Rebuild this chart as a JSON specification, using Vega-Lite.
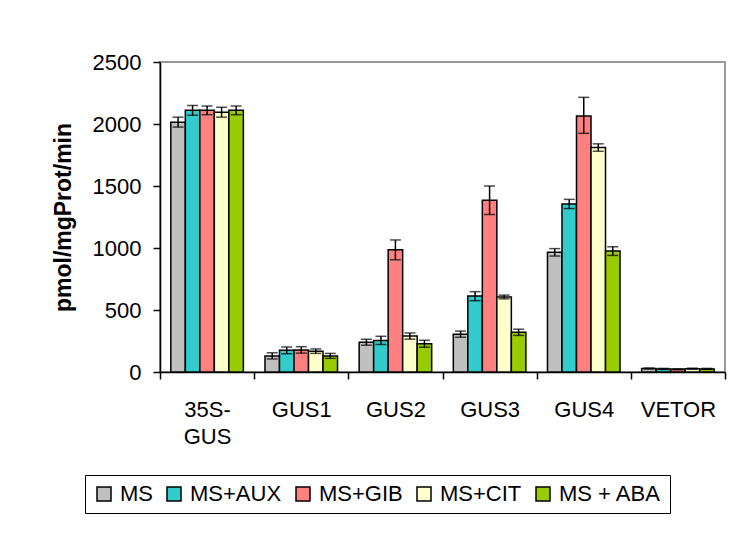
{
  "$schema": "https://vega.github.io/schema/vega-lite/v6.json",
  "width": 565,
  "height": 310,
  "autosize": {"type": "none"},
  "padding": {"left": 160, "top": 62, "right": 22, "bottom": 162},
  "background": "white",
  "config": {
    "font": "Liberation Sans",
    "view": {"stroke": "#9a9a9a", "strokeWidth": 2},
    "axis": {"labelFont": "Liberation Sans", "titleFont": "Liberation Sans", "labelColor": "black", "titleColor": "black", "domainColor": "black", "tickColor": "black", "domainWidth": 1.5, "tickWidth": 1.5, "tickSize": 7, "grid": false},
    "legend": {"strokeColor": "black", "fillColor": "white"}
  },
  "data": {"values": [
    {"gene": "35S-GUS", "trat": "MS", "v": 2015, "lo": 1975, "hi": 2055},
    {"gene": "35S-GUS", "trat": "MS+AUX", "v": 2110, "lo": 2070, "hi": 2150},
    {"gene": "35S-GUS", "trat": "MS+GIB", "v": 2110, "lo": 2075, "hi": 2145},
    {"gene": "35S-GUS", "trat": "MS+CIT", "v": 2095, "lo": 2055, "hi": 2135},
    {"gene": "35S-GUS", "trat": "MS + ABA", "v": 2110, "lo": 2075, "hi": 2145},
    {"gene": "GUS1", "trat": "MS", "v": 130, "lo": 105, "hi": 155},
    {"gene": "GUS1", "trat": "MS+AUX", "v": 175, "lo": 148, "hi": 202},
    {"gene": "GUS1", "trat": "MS+GIB", "v": 178, "lo": 152, "hi": 204},
    {"gene": "GUS1", "trat": "MS+CIT", "v": 168, "lo": 150, "hi": 186},
    {"gene": "GUS1", "trat": "MS + ABA", "v": 130, "lo": 110, "hi": 150},
    {"gene": "GUS2", "trat": "MS", "v": 240, "lo": 216, "hi": 264},
    {"gene": "GUS2", "trat": "MS+AUX", "v": 255, "lo": 222, "hi": 288},
    {"gene": "GUS2", "trat": "MS+GIB", "v": 985, "lo": 905, "hi": 1065},
    {"gene": "GUS2", "trat": "MS+CIT", "v": 290, "lo": 265, "hi": 315},
    {"gene": "GUS2", "trat": "MS + ABA", "v": 228, "lo": 200, "hi": 256},
    {"gene": "GUS3", "trat": "MS", "v": 305, "lo": 280, "hi": 330},
    {"gene": "GUS3", "trat": "MS+AUX", "v": 612, "lo": 575, "hi": 648},
    {"gene": "GUS3", "trat": "MS+GIB", "v": 1385, "lo": 1270, "hi": 1500},
    {"gene": "GUS3", "trat": "MS+CIT", "v": 605, "lo": 590, "hi": 620},
    {"gene": "GUS3", "trat": "MS + ABA", "v": 320, "lo": 295, "hi": 345},
    {"gene": "GUS4", "trat": "MS", "v": 965, "lo": 935, "hi": 995},
    {"gene": "GUS4", "trat": "MS+AUX", "v": 1355, "lo": 1318, "hi": 1392},
    {"gene": "GUS4", "trat": "MS+GIB", "v": 2065, "lo": 1925, "hi": 2215},
    {"gene": "GUS4", "trat": "MS+CIT", "v": 1810, "lo": 1780, "hi": 1840},
    {"gene": "GUS4", "trat": "MS + ABA", "v": 975, "lo": 940, "hi": 1010},
    {"gene": "VETOR", "trat": "MS", "v": 28, "lo": 24, "hi": 32},
    {"gene": "VETOR", "trat": "MS+AUX", "v": 25, "lo": 21, "hi": 29},
    {"gene": "VETOR", "trat": "MS+GIB", "v": 22, "lo": 18, "hi": 26},
    {"gene": "VETOR", "trat": "MS+CIT", "v": 27, "lo": 23, "hi": 31},
    {"gene": "VETOR", "trat": "MS + ABA", "v": 25, "lo": 21, "hi": 29}
  ]},
  "encoding": {
    "x": {
      "field": "gene", "type": "nominal",
      "sort": ["35S-GUS", "GUS1", "GUS2", "GUS3", "GUS4", "VETOR"],
      "scale": {"paddingInner": 0, "paddingOuter": 0},
      "axis": {"title": null, "labelAngle": 0, "labelFontSize": 22, "tickBand": "extent", "labelPadding": 20, "labelBaseline": "top", "labelLineHeight": 27,
        "labelExpr": "datum.value == '35S-GUS' ? ['35S-', 'GUS'] : datum.value"}
    },
    "xOffset": {
      "field": "trat", "type": "nominal",
      "sort": ["MS", "MS+AUX", "MS+GIB", "MS+CIT", "MS + ABA"],
      "scale": {"paddingInner": 0, "paddingOuter": 0.745}
    }
  },
  "layer": [
    {
      "mark": {"type": "bar", "stroke": "black", "strokeWidth": 1.5},
      "encoding": {
        "y": {"field": "v", "type": "quantitative",
          "scale": {"domain": [0, 2500], "nice": false},
          "axis": {"title": "pmol/mgProt/min", "titleFontSize": 23, "titleFontWeight": "bold", "labelFontSize": 22, "format": "d", "values": [0, 500, 1000, 1500, 2000, 2500], "labelPadding": 12, "titlePadding": 17}},
        "color": {
          "field": "trat", "type": "nominal",
          "sort": ["MS", "MS+AUX", "MS+GIB", "MS+CIT", "MS + ABA"],
          "scale": {"domain": ["MS", "MS+AUX", "MS+GIB", "MS+CIT", "MS + ABA"], "range": ["#C0C0C0", "#33CCCC", "#FF8080", "#FFFFCC", "#99CC00"]},
          "legend": {
            "title": null, "orient": "none", "direction": "horizontal", "legendX": -75, "legendY": 413,
            "labelFontSize": 22, "labelFont": "Liberation Sans", "labelColor": "black",
            "symbolType": "square", "symbolSize": 196, "symbolStrokeColor": "black", "symbolStrokeWidth": 1.5, "symbolOpacity": 1,
            "labelOffset": 5, "columnPadding": 10, "padding": 8
          }
        }
      }
    },
    {
      "mark": {"type": "rule", "color": "black", "strokeWidth": 1.5},
      "encoding": {
        "y": {"field": "lo", "type": "quantitative"},
        "y2": {"field": "hi"}
      }
    },
    {
      "mark": {"type": "tick", "orient": "horizontal", "color": "black", "size": 11, "thickness": 1.5},
      "encoding": {"y": {"field": "lo", "type": "quantitative"}}
    },
    {
      "mark": {"type": "tick", "orient": "horizontal", "color": "black", "size": 11, "thickness": 1.5},
      "encoding": {"y": {"field": "hi", "type": "quantitative"}}
    }
  ]
}
